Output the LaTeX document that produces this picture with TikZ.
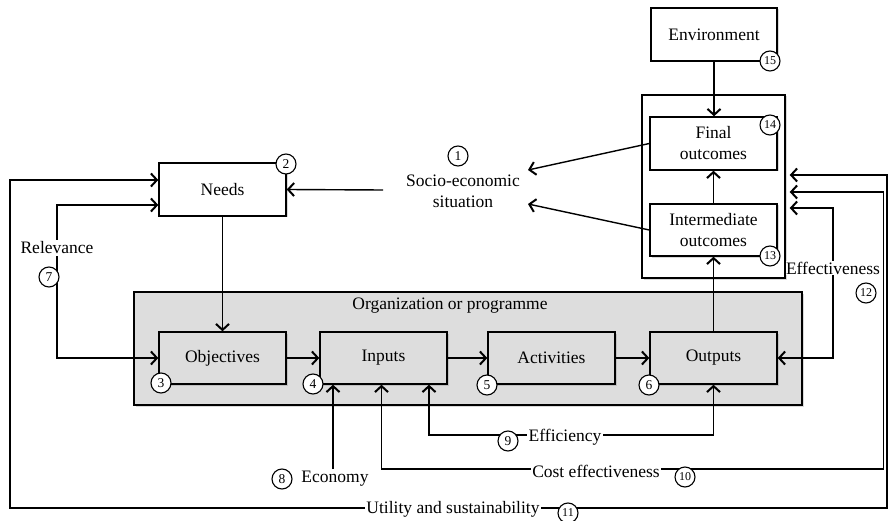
\documentclass[tikz,border=0pt]{standalone}
\usepackage{fontspec}
\setmainfont{Liberation Serif}
\usetikzlibrary{arrows.meta,calc,shadows}
\definecolor{boxgray}{RGB}{221,221,221}
\begin{document}
\begin{tikzpicture}[x=1pt,y=-1pt,
  every node/.style={font=\fontsize{17.5}{21}\selectfont, align=center},
  box/.style={draw, line width=1.4pt, minimum width=127pt, minimum height=52pt, inner sep=0pt, fill=white},
  gbox/.style={box, fill=boxgray},
  shadowed/.style={drop shadow={shadow xshift=1.5pt, shadow yshift=-1.5pt, opacity=0.3}},
  num/.style={circle, draw, line width=1.1pt, fill=white, minimum size=20pt, inner sep=0pt, font=\fontsize{13.5}{13.5}\selectfont},
  numb/.style={num, font=\fontsize{12}{12}\selectfont},
  tip/.tip={Straight Barb[length=6pt,width=13pt,line width=2pt]},
  arr/.style={line width=1.4pt, -tip},
  darr/.style={line width=1.4pt, tip-tip},
  lbl/.style={fill=white, inner sep=1.5pt}
]
\useasboundingbox (0,0) rectangle (888,521);
% containers
\node[gbox, shadowed, minimum width=668pt, minimum height=113pt] (org) at (468,348.5) {};
\node[box, shadowed, minimum width=143pt, minimum height=183pt] (outer) at (713.5,186.5) {};
% boxes
\node[box, shadowed, minimum width=126pt, minimum height=53pt] (env) at (714,34.5) {Environment};
\node[box, shadowed, minimum height=53pt] (final) at (713.5,143.5) {Final\\outcomes};
\node[box, shadowed] (inter) at (713.5,230) {Intermediate\\outcomes};
\node[box, shadowed, minimum height=53pt] (needs) at (222.5,189.5) {Needs};
\node[gbox, shadowed] (objectives) at (222.5,358) {Objectives};
\node[gbox, shadowed] (inputs) at (383.5,358) {Inputs};
\node[gbox, shadowed] (activities) at (551.5,358) {Activities};
\node[gbox, shadowed] (outputs) at (713.5,358) {Outputs};
\node (orglbl) at (450,306) {Organization or programme};
% coordinates
\coordinate (s0) at (383,190);
\coordinate (s1) at (528,170);
\coordinate (s2) at (528,204);
\coordinate (e0) at (333,469);
% connectors
\draw[arr] (env.south) -- (env.south |- final.north);
\draw[arr] (inter) -- (final);
\draw[arr] (outputs) -- (inter);
\draw[arr] (needs) -- (objectives);
\draw[arr] (objectives) -- (inputs);
\draw[arr] (inputs) -- (activities);
\draw[arr] (activities) -- (outputs);
\draw[arr] (final.west) -- (s1);
\draw[arr] (inter.west) -- (s2);
\draw[arr] (s0) -- (needs.east);
\draw[darr] ($(needs.west)+(0,15.5)$) -| (57,300) |- (objectives.west);
\draw[darr] ($(needs.west)+(0,-9.5)$) -| (10,508) -| (887,300) |- ($(outer.east)+(4,-11.5)$);
\draw[darr] ($(inputs.south)+(-2,0)$) |- (883.5,469) |- ($(outer.east)+(4,5.5)$);
\draw[darr] ($(inputs.south)+(45.5,0)$) |- (713.5,435) -- (outputs.south);
\draw[darr] (outputs.east) -| (833,300) |- ($(outer.east)+(4,21.5)$);
\draw[arr] (e0) -- (e0 |- inputs.south);
% labels
\node (socio) at (463,191) {Socio-economic\\situation};
\node[lbl] (relev) at (57,248) {Relevance};
\node (econ) at (335,479) {Economy};
\node[lbl] (effic) at (565,437) {Efficiency};
\node[lbl] (coste) at (596,471) {Cost effectiveness};
\node[lbl] (util) at (453,509) {Utility and sustainability};
\node[lbl, inner sep=0.5pt] (effect) at (833,268) {Effectiveness};
% numbers
\node[num] (n1) at (458,156) {1};
\node[num] (n2) at (286,164) {2};
\node[num] (n3) at (161,383) {3};
\node[num] (n4) at (313,384) {4};
\node[num] (n5) at (487,385) {5};
\node[num] (n6) at (649,385) {6};
\node[num] (n7) at (49,277) {7};
\node[num] (n8) at (282,479) {8};
\node[num] (n9) at (508,441) {9};
\node[numb] (n10) at (685,477) {10};
\node[numb] (n11) at (568,513) {11};
\node[numb] (n12) at (866,293) {12};
\node[numb] (n13) at (770,256) {13};
\node[numb] (n14) at (770,125) {14};
\node[numb] (n15) at (770,61) {15};
\end{tikzpicture}
\end{document}
